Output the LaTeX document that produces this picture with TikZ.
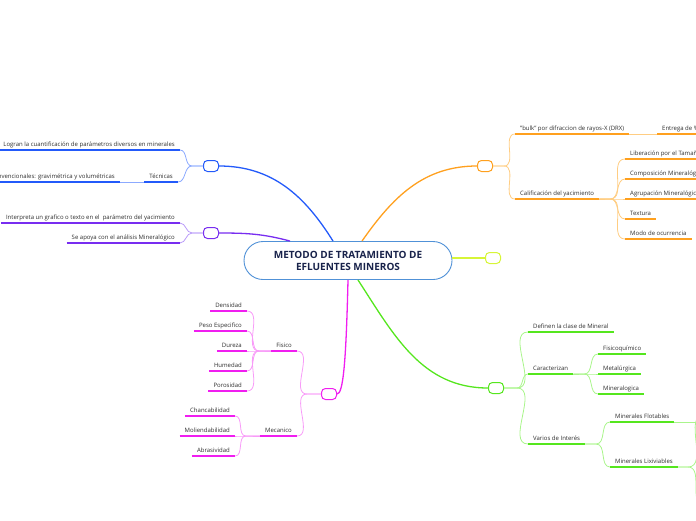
\documentclass[tikz,border=0pt]{standalone}
\usepackage{fontspec}
\setmainfont{Open Sans}
\usepackage{tikz}

\definecolor{bluedk}{RGB}{35,90,250}
\definecolor{bluelt}{RGB}{140,170,255}
\definecolor{purdk}{RGB}{120,45,240}
\definecolor{purlt}{RGB}{185,155,248}
\definecolor{ordk}{RGB}{255,160,30}
\definecolor{orlt}{RGB}{255,205,130}
\definecolor{yeldk}{RGB}{215,245,55}
\definecolor{grdk}{RGB}{85,230,30}
\definecolor{grlt}{RGB}{170,245,140}
\definecolor{magdk}{RGB}{240,30,240}
\definecolor{maglt}{RGB}{248,155,248}
\definecolor{mainbd}{RGB}{80,145,215}
\definecolor{maintx}{RGB}{25,35,75}
\definecolor{leaftx}{RGB}{45,45,45}

\begin{document}
\begin{tikzpicture}[x=1pt,y=1pt,
  topic/.style={font=\fontsize{6}{7}\selectfont, text=leaftx, inner xsep=5pt,
    inner ysep=2pt, text height=5pt, text depth=1.5pt},
  hub/.style={draw=#1, rounded corners=4pt, line width=1pt, minimum width=15pt,
    minimum height=11pt, inner sep=0pt, fill=white},
  uline/.style={draw=#1, line width=1.6pt},
  link/.style={draw=#1, line width=0.8pt},
  trunk/.style={draw=#1, line width=1.3pt}]
  \useasboundingbox (0,0) rectangle (696,-520);
  \clip (0,0) rectangle (696,-520);

  % ---------- centre ----------
  \node[draw=mainbd, line width=0.9pt, fill=white, rounded corners=19pt,
    minimum width=208pt, minimum height=38pt, align=center, text=maintx,
    font=\fontsize{10}{12}\selectfont\bfseries] (main) at (348,-260.5)
    {METODO DE TRATAMIENTO DE\\EFLUENTES MINEROS};

  % ---------- blue: tecnicas ----------
  \node[hub=bluedk] (hblue) at (211,-166) {};
  \node[topic, anchor=south east] (logran) at (180,-150) {Logran la cuantificación de parámetros diversos en minerales};
  \node[topic, anchor=south east] (tecn) at (178,-182) {Técnicas};
  \node[topic, anchor=south east] (conv) at (120,-182) {Convencionales: gravimétrica y volumétricas};
  \draw[trunk=bluedk] ([xshift=-15pt]main.north) to[out=122,in=0] (hblue.east);
  \draw[link=bluelt] (hblue.west) -- ++(-11,0) to[out=180,in=0] (logran.south east);
  \draw[link=bluelt] (hblue.west) -- ++(-11,0) to[out=180,in=0] (tecn.south east);
  \draw[link=bluelt] (tecn.south west) -- (conv.south east);
  \foreach \n in {logran,tecn,conv}
    \draw[uline=bluedk] (\n.south west) -- (\n.south east);

  % ---------- purple ----------
  \node[hub=purdk] (hpur) at (211,-233) {};
  \node[topic, anchor=south east] (interp) at (180,-223) {Interpreta un grafico o texto en el \ parámetro del yacimiento};
  \node[topic, anchor=south east] (apoya) at (180,-243) {Se apoya con el análisis Mineralógico};
  \draw[trunk=purdk] ([xshift=-58pt]main.north) to[out=165,in=0] (hpur.east);
  \foreach \n in {interp,apoya}
    \draw[link=purlt] (hpur.west) -- ++(-11,0) to[out=180,in=0] (\n.south east);
  \foreach \n in {interp,apoya}
    \draw[uline=purdk] (\n.south west) -- (\n.south east);

  % ---------- orange ----------
  \node[hub=ordk] (hor) at (485,-166) {};
  \node[topic, anchor=south west] (bulk) at (515,-134) {"bulk" por difraccion de rayos-X (DRX)};
  \node[topic, anchor=south west] (entrega) at (657,-134) {Entrega de \%};
  \node[topic, anchor=south west] (calif) at (515,-199) {Calificación del yacimiento};
  \node[topic, anchor=south west] (liber) at (625,-159) {Liberación por el Tamaño};
  \node[topic, anchor=south west] (compo) at (625,-179) {Composición Mineralógica};
  \node[topic, anchor=south west] (agrup) at (625,-199) {Agrupación Mineralógica};
  \node[topic, anchor=south west] (text) at (625,-219) {Textura};
  \node[topic, anchor=south west] (modo) at (625,-239) {Modo de ocurrencia};
  \draw[trunk=ordk] ([xshift=14pt]main.north) to[out=55,in=180] (hor.west);
  \foreach \n in {bulk,calif}
    \draw[link=orlt] (hor.east) -- ++(11,0) to[out=0,in=180] (\n.south west);
  \draw[link=orlt] (bulk.south east) -- (entrega.south west);
  \foreach \n in {liber,compo,agrup,text,modo}
    \draw[link=orlt] (calif.south east) -- ++(11,0) to[out=0,in=180] (\n.south west);
  \foreach \n in {bulk,entrega,calif,liber,compo,agrup,text,modo}
    \draw[uline=ordk] (\n.south west) -- (\n.south east);

  % ---------- yellow ----------
  \node[hub=yeldk] (hyel) at (493,-258) {};
  \draw[trunk=yeldk] (hyel.west) -- (hyel.west -| main.east);

  % ---------- green ----------
  \node[hub=grdk] (hgr) at (496,-388) {};
  \node[topic, anchor=south west] (def) at (528,-332) {Definen la clase de Mineral};
  \node[topic, anchor=south west] (car) at (528,-374) {Caracterizan};
  \node[topic, anchor=south west] (var) at (528,-444) {Varios de Interés};
  \node[topic, anchor=south west] (fisq) at (598,-354) {Fisicoquímico};
  \node[topic, anchor=south west] (metal) at (598,-374) {Metalúrgica};
  \node[topic, anchor=south west] (miner) at (598,-394) {Mineralogica};
  \node[topic, anchor=south west] (flot) at (610,-422) {Minerales Flotables};
  \node[topic, anchor=south west] (lix) at (610,-467) {Minerales Lixiviables};
  \coordinate (flotend) at (700,-422);
  \coordinate (lixup) at (704,-415);
  \coordinate (lixdn) at (704,-505);
  \draw[trunk=grdk] ([xshift=10pt]main.south) to[out=-57,in=180] (hgr.west);
  \foreach \n in {def,car,var}
    \draw[link=grlt] (hgr.east) -- ++(13,0) to[out=0,in=180] (\n.south west);
  \foreach \n in {fisq,metal,miner}
    \draw[link=grlt] (car.south east) -- ++(11,0) to[out=0,in=180] (\n.south west);
  \foreach \n in {flot,lix}
    \draw[link=grlt] (var.south east) -- ++(11,0) to[out=0,in=180] (\n.south west);
  \draw[link=grlt] (flot.south east) -- (flotend);
  \draw[link=grlt] (lix.south east) -- ++(10,0) to[out=0,in=180] (lixup);
  \draw[link=grlt] (lix.south east) -- ++(10,0) to[out=0,in=180] (lixdn);
  \foreach \n in {def,car,var,fisq,metal,miner,flot,lix}
    \draw[uline=grdk] (\n.south west) -- (\n.south east);

  % ---------- magenta ----------
  \node[hub=magdk] (hmag) at (329,-394) {};
  \node[topic, anchor=south east] (fisico) at (297,-351) {Fisico};
  \node[topic, anchor=south east] (mec) at (297,-436) {Mecanico};
  \node[topic, anchor=south east] (dens) at (247,-311) {Densidad};
  \node[topic, anchor=south east] (peso) at (247,-331) {Peso Especifico};
  \node[topic, anchor=south east] (dur) at (247,-351) {Dureza};
  \node[topic, anchor=south east] (hum) at (247,-371) {Humedad};
  \node[topic, anchor=south east] (poro) at (247,-391) {Porosidad};
  \node[topic, anchor=south east] (chan) at (235,-416) {Chancabilidad};
  \node[topic, anchor=south east] (mol) at (235,-436) {Moliendabilidad};
  \node[topic, anchor=south east] (abr) at (235,-456) {Abrasividad};
  \draw[trunk=magdk] (main.south) .. controls +(-2,-85) and +(6,0) .. (hmag.east);
  \foreach \n in {fisico,mec}
    \draw[link=maglt] (hmag.west) -- ++(-14,0) to[out=180,in=0] (\n.south east);
  \foreach \n in {dens,peso,dur,hum,poro}
    \draw[link=maglt] (fisico.south west) -- ++(-12,0) to[out=180,in=0] (\n.south east);
  \foreach \n in {chan,mol,abr}
    \draw[link=maglt] (mec.south west) -- ++(-14,0) to[out=180,in=0] (\n.south east);
  \foreach \n in {fisico,mec,dens,peso,dur,hum,poro,chan,mol,abr}
    \draw[uline=magdk] (\n.south west) -- (\n.south east);
\end{tikzpicture}
\end{document}
